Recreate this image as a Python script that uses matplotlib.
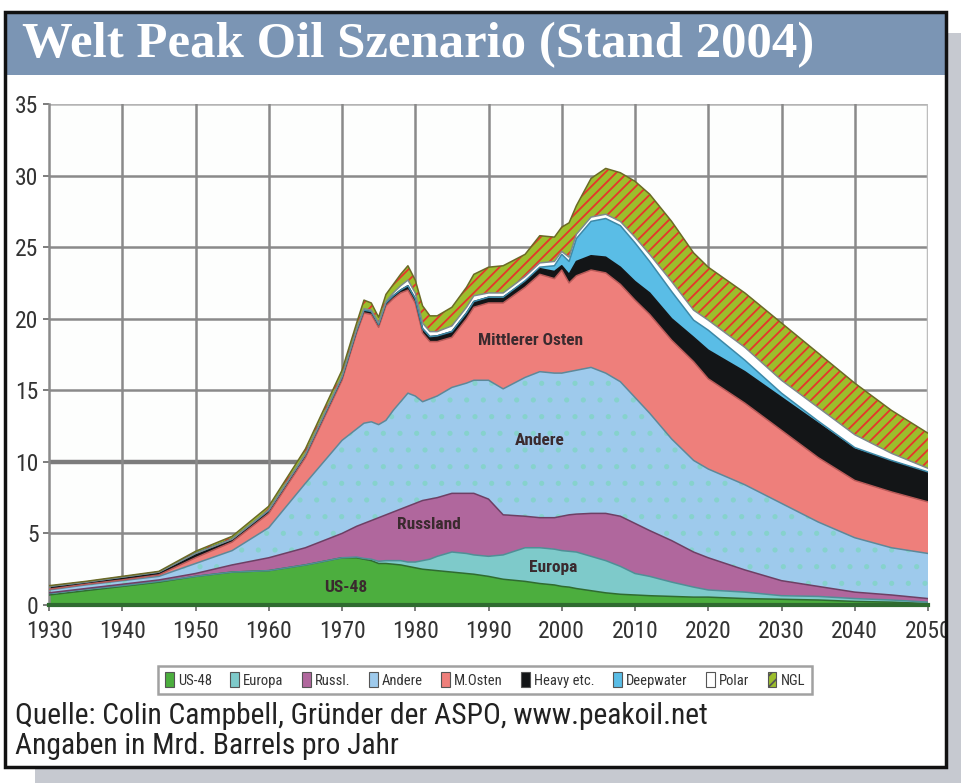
import numpy as np
import matplotlib
matplotlib.use("Agg")
import matplotlib.pyplot as plt
from matplotlib.patches import Rectangle, Patch

plt.rcParams['hatch.linewidth'] = 1.3

NARROW = ['Liberation Sans Narrow', 'Roboto Condensed', 'DejaVu Sans']
SERIF = ['Liberation Serif', 'DejaVu Serif']

# ---------------- data (Mrd. Barrels pro Jahr) ----------------
years = [1930, 1935, 1940, 1945, 1950, 1955, 1960, 1965, 1970, 1972, 1973, 1974,
         1975, 1976, 1977, 1978, 1979, 1980, 1981, 1982, 1983, 1985, 1987, 1988,
         1990, 1992, 1995, 1997, 1999, 2000, 2001, 2002, 2004, 2006, 2008, 2010,
         2012, 2015, 2018, 2020, 2025, 2030, 2035, 2040, 2045, 2050]

us48 = [0.7, 1.0, 1.3, 1.6, 2.0, 2.3, 2.4, 2.8, 3.3, 3.3, 3.2, 3.1,
        2.9, 2.9, 2.85, 2.8, 2.7, 2.6, 2.5, 2.45, 2.4, 2.3, 2.2, 2.15,
        2.0, 1.8, 1.65, 1.5, 1.4, 1.3, 1.25, 1.15, 1.0, 0.85, 0.75, 0.7,
        0.65, 0.6, 0.55, 0.55, 0.45, 0.4, 0.35, 0.25, 0.2, 0.1]
europa = [0.1, 0.1, 0.05, 0.05, 0.0, 0.0, 0.0, 0.0, 0.0, 0.05, 0.05, 0.1,
          0.15, 0.2, 0.25, 0.3, 0.3, 0.4, 0.6, 0.75, 1.0, 1.4, 1.4, 1.35,
          1.4, 1.7, 2.35, 2.5, 2.5, 2.5, 2.5, 2.55, 2.4, 2.25, 1.95, 1.5,
          1.35, 1.0, 0.7, 0.5, 0.45, 0.25, 0.25, 0.2, 0.15, 0.1]
russl = [0.05, 0.05, 0.1, 0.1, 0.2, 0.5, 0.9, 1.2, 1.7, 2.15, 2.45, 2.7,
         3.05, 3.2, 3.4, 3.6, 3.9, 4.1, 4.2, 4.2, 4.1, 4.1, 4.2, 4.3,
         4.0, 2.8, 2.2, 2.1, 2.2, 2.4, 2.55, 2.65, 3.0, 3.3, 3.5, 3.5,
         3.2, 2.9, 2.45, 2.25, 1.55, 1.05, 0.7, 0.45, 0.35, 0.25]
andere = [0.2, 0.25, 0.25, 0.25, 0.7, 1.0, 2.1, 4.5, 6.5, 6.8, 7.0, 6.9,
          6.5, 6.6, 7.1, 7.5, 7.9, 7.5, 6.9, 7.0, 7.1, 7.4, 7.7, 7.9,
          8.3, 8.8, 9.7, 10.2, 10.1, 10.0, 10.0, 10.05, 10.2, 9.8, 9.4, 8.8,
          8.2, 7.1, 6.4, 6.2, 5.95, 5.4, 4.5, 3.8, 3.3, 3.15]
m_osten = [0.05, 0.05, 0.05, 0.1, 0.4, 0.6, 1.0, 1.8, 4.2, 6.7, 7.7, 7.5,
           6.8, 8.0, 7.8, 7.6, 7.2, 6.5, 4.8, 4.0, 3.8, 3.5, 4.5, 5.1,
           5.4, 6.0, 6.3, 6.8, 6.6, 7.2, 6.2, 6.6, 6.8, 7.0, 6.8, 6.8,
           6.9, 6.9, 6.9, 6.3, 5.7, 5.1, 4.5, 4.0, 3.9, 3.6]
heavy = [0.2, 0.15, 0.2, 0.2, 0.3, 0.2, 0.2, 0.2, 0.2, 0.2, 0.2, 0.2,
         0.2, 0.2, 0.2, 0.2, 0.3, 0.3, 0.3, 0.35, 0.4, 0.4, 0.4, 0.4,
         0.4, 0.4, 0.4, 0.4, 0.5, 0.3, 0.6, 1.0, 1.0, 1.1, 1.2, 1.3,
         1.5, 1.5, 1.7, 2.0, 2.2, 2.3, 2.4, 2.2, 2.15, 2.05]
deepwater = [0.0, 0.0, 0.0, 0.0, 0.0, 0.0, 0.0, 0.0, 0.0, 0.0, 0.0, 0.0,
             0.0, 0.0, 0.0, 0.0, 0.0, 0.0, 0.0, 0.0, 0.0, 0.0, 0.0, 0.0,
             0.0, 0.0, 0.05, 0.1, 0.4, 0.8, 0.9, 1.6, 2.4, 2.7, 2.9, 2.7,
             2.2, 1.9, 1.2, 1.4, 0.8, 0.3, 0.15, 0.1, 0.05, 0.05]
polar = [0.0, 0.0, 0.0, 0.0, 0.0, 0.0, 0.05, 0.05, 0.1, 0.1, 0.1, 0.1,
         0.1, 0.1, 0.2, 0.3, 0.4, 0.4, 0.4, 0.35, 0.3, 0.4, 0.4, 0.4,
         0.3, 0.3, 0.3, 0.3, 0.3, 0.2, 0.3, 0.3, 0.3, 0.3, 0.3, 0.4,
         0.5, 0.7, 0.7, 0.7, 0.9, 0.9, 0.95, 0.9, 0.5, 0.25]
ngl = [0.05, 0.05, 0.05, 0.05, 0.15, 0.2, 0.25, 0.35, 0.4, 0.4, 0.6, 0.5,
       0.4, 0.5, 0.6, 0.8, 1.0, 0.9, 1.2, 1.1, 1.1, 1.3, 1.4, 1.5,
       1.8, 1.9, 1.55, 1.9, 1.7, 1.7, 2.4, 2.0, 2.7, 3.2, 3.4, 3.9,
       4.2, 4.2, 4.0, 3.7, 3.8, 4.0, 3.8, 3.6, 3.0, 2.45]

legend_labels = ["US-48", "Europa", "Russl.", "Andere", "M.Osten",
                 "Heavy etc.", "Deepwater", "Polar", "NGL"]
area_labels = ["US-48", "Europa", "Russland", "Andere", "Mittlerer Osten"]
area_label_pos = [(1970.5, 1.2), (1998.8, 2.6), (1981.8, 5.6), (1997.0, 11.5), (1995.8, 18.5)]

x_ticks = list(range(1930, 2051, 10))
y_ticks = list(range(0, 36, 5))

title = "Welt Peak Oil Szenario (Stand 2004)"
source1 = "Quelle: Colin Campbell, Gründer der ASPO, www.peakoil.net"
source2 = "Angaben in Mrd. Barrels pro Jahr"

# ---------------- styling ----------------
fills = ['#4cae3e', '#7ecaca', '#b0679d', '#9ecaec', '#ee7f7b',
         '#131517', '#5abde6', '#ffffff', '#9cbe2c']
edges = ['#2f6b30', '#4f8f96', '#6d3f64', '#5d8899', '#b85a58',
         '#131517', '#3d89a8', '#7d8b8b', '#6b6a26']

W, H = 962, 783
fig = plt.figure(figsize=(W / 100, H / 100), dpi=100)
fig.patch.set_facecolor('white')

def fx(px):
    return px / W

def fy(py):
    return 1 - py / H

# shadow
fig.patches.append(Rectangle((fx(946), fy(783)), fx(16), (783 - 33) / H,
                             transform=fig.transFigure, facecolor='#c6c9d0',
                             edgecolor='none', zorder=0))
fig.patches.append(Rectangle((fx(35), fy(783)), fx(927), 16 / H,
                             transform=fig.transFigure, facecolor='#c6c9d0',
                             edgecolor='none', zorder=0))
# title band
fig.patches.append(Rectangle((fx(5), fy(75)), fx(941), 63 / H,
                             transform=fig.transFigure, facecolor='#7b95b4',
                             edgecolor='none', zorder=1))
# outer frame
fig.patches.append(Rectangle((fx(5), fy(767)), fx(941), 755 / H,
                             transform=fig.transFigure, facecolor='none',
                             edgecolor='#111111', linewidth=2.5, zorder=2))

fig.text(fx(22), fy(45), title, color='white', family=SERIF, weight='bold',
         fontsize=36.5, ha='left', va='center')

ax = fig.add_axes([fx(49), fy(605), fx(928 - 49), (605 - 104) / H])
ax.set_facecolor('#fdfefd')
ax.set_xlim(1930, 2050)
ax.set_ylim(0, 35)

# grid
for yv in y_ticks[1:]:
    lw, col = (3.2, '#7c7c7c') if yv == 10 else (1.8, '#8a8a8a')
    if yv == 35:
        col = '#b4b4b4'
    ax.axhline(yv, color=col, lw=lw, zorder=0)
for xv in x_ticks[1:-1]:
    ax.axvline(xv, color='#8a8a8a', lw=1.8, zorder=0)
ax.axvline(2050, color='#bdbdbd', lw=2.5, zorder=0)

layers = np.array([us48, europa, russl, andere, m_osten, heavy, deepwater, polar, ngl], dtype=float)
tops = np.cumsum(layers, axis=0)
x = np.array(years, dtype=float)
base = np.zeros_like(x)
for i in range(len(layers)):
    lower = base if i == 0 else tops[i - 1]
    upper = tops[i]
    ax.fill_between(x, lower, upper, facecolor=fills[i], edgecolor='none',
                    linewidth=0, zorder=2 + i * 0.1)
    if i == 3:
        ax.fill_between(x, lower, upper, facecolor='none', edgecolor='#86d2cc',
                        hatch='.', linewidth=0, zorder=2.35)
    if i == 8:
        ax.fill_between(x, lower, upper, facecolor='none', edgecolor='#e6352b',
                        hatch='///', linewidth=0, zorder=2.85)
    ax.plot(x, upper, color=edges[i], lw=1.1, zorder=3)

ax.plot([1930, 2050], [0, 0], color='#2f6b30', lw=3, zorder=3, clip_on=False)

for lab, (lx, ly) in zip(area_labels, area_label_pos):
    ax.text(lx, ly, lab, family=NARROW, stretch='condensed', weight='bold',
            fontsize=12.5, color='#3a2a2e', ha='center', va='center', zorder=5)

for s in ['top', 'right', 'bottom']:
    ax.spines[s].set_visible(False)
ax.spines['left'].set_color('#8a8a8a')
ax.spines['left'].set_linewidth(1.8)

ax.set_xticks(x_ticks)
ax.set_yticks(y_ticks)
ax.tick_params(axis='x', pad=7)
ax.tick_params(axis='both', length=4, width=1.2, color='#666666',
               labelsize=17, labelcolor='#333333')
for lbl in ax.get_xticklabels() + ax.get_yticklabels():
    lbl.set_family(NARROW)
    lbl.set_stretch('condensed')

# legend
handles = [Patch(facecolor=fills[i], edgecolor='#555555', linewidth=0.8,
                 hatch='///' if i == 8 else None) for i in range(9)]
leg = fig.legend(handles, legend_labels, loc='center', ncol=9,
                 bbox_to_anchor=(fx(485), fy(680)), frameon=True, fancybox=False,
                 handlelength=0.6, handleheight=1.2, handletextpad=0.3,
                 columnspacing=1.25, borderpad=0.45,
                 prop={'family': NARROW, 'size': 10.5, 'stretch': 'condensed'})
leg.get_frame().set_edgecolor('#8a8a8a')
leg.get_frame().set_linewidth(1.8)
for t in leg.get_texts():
    t.set_color('#333333')

fig.text(fx(15), fy(716), source1, family=NARROW, stretch='condensed', fontsize=21.3,
         color='#222222', ha='left', va='center')
fig.text(fx(15), fy(746), source2, family=NARROW, stretch='condensed', fontsize=21.3,
         color='#222222', ha='left', va='center')

fig.savefig('out.png', dpi=100)
